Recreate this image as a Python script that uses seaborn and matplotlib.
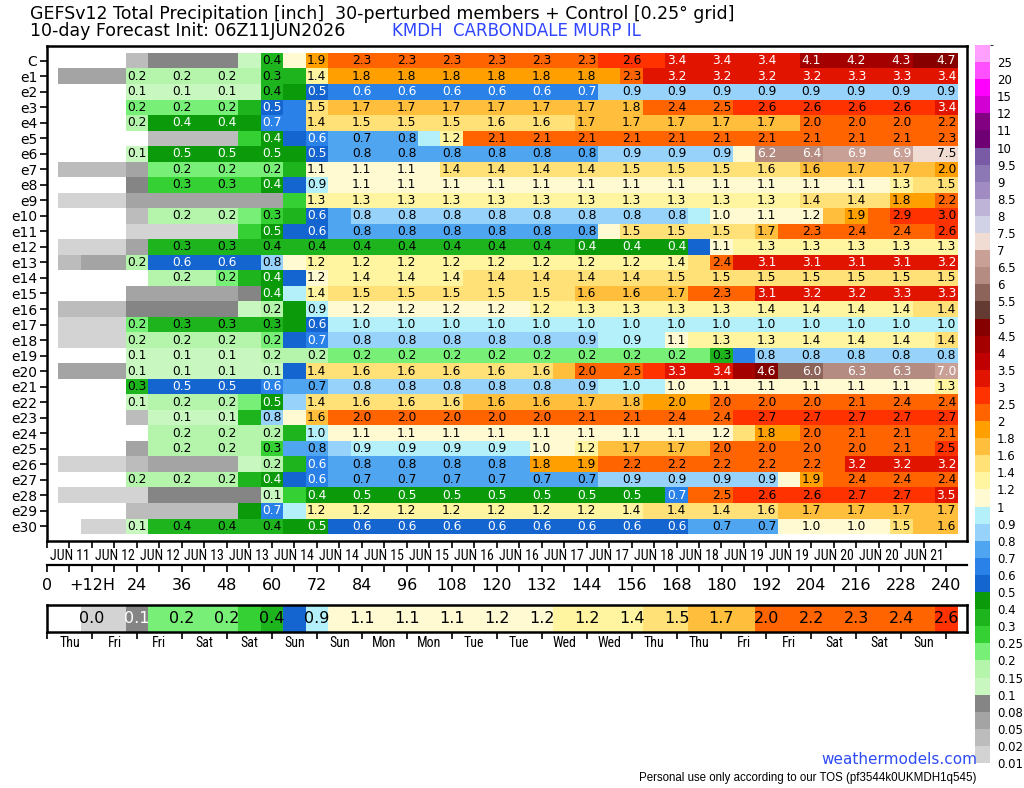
import numpy as np
import pandas as pd
import seaborn as sns
import matplotlib.pyplot as plt
from matplotlib import colors as mcolors
from matplotlib import cm
from matplotlib import font_manager as fm

# accumulated precip (inch), 6-hourly steps 6h..240h
members = ['C'] + ['e%d' % i for i in range(1, 31)]

precip_C = [0, 0, 0, 0.03, 0.09, 0.09, 0.09, 0.09, 0.13, 0.38,
            1.05, 1.9, 2.2, 2.3, 2.3, 2.3, 2.3, 2.3, 2.3, 2.3,
            2.3, 2.3, 2.3, 2.3, 2.55, 2.6, 2.7, 3.4, 3.4, 3.4,
            3.4, 3.4, 3.45, 4.1, 4.15, 4.2, 4.25, 4.3, 4.6, 4.7]
precip_e1 = [0.06, 0.06, 0.06, 0.17, 0.18, 0.18, 0.18, 0.18, 0.18, 0.32,
             0.38, 1.38, 1.82, 1.82, 1.82, 1.82, 1.82, 1.82, 1.82, 1.82,
             1.82, 1.82, 1.82, 1.82, 1.85, 2.3, 3.15, 3.2, 3.2, 3.2,
             3.2, 3.2, 3.2, 3.2, 3.25, 3.3, 3.3, 3.3, 3.35, 3.4]
precip_e2 = [0, 0, 0, 0.12, 0.12, 0.12, 0.12, 0.12, 0.12, 0.38,
             0.45, 0.52, 0.61, 0.62, 0.62, 0.62, 0.62, 0.62, 0.62, 0.62,
             0.62, 0.62, 0.66, 0.68, 0.88, 0.88, 0.88, 0.88, 0.88, 0.88,
             0.88, 0.88, 0.88, 0.88, 0.88, 0.88, 0.88, 0.88, 0.88, 0.88]
precip_e3 = [0, 0, 0, 0.21, 0.21, 0.21, 0.21, 0.21, 0.32, 0.52,
             0.62, 1.5, 1.7, 1.7, 1.7, 1.7, 1.7, 1.7, 1.7, 1.7,
             1.7, 1.7, 1.7, 1.7, 1.7, 1.78, 2.3, 2.4, 2.45, 2.48,
             2.55, 2.6, 2.6, 2.6, 2.6, 2.6, 2.6, 2.6, 2.6, 3.4]
precip_e4 = [0, 0, 0, 0.18, 0.42, 0.42, 0.42, 0.42, 0.42, 0.68,
             0.69, 1.42, 1.5, 1.5, 1.5, 1.5, 1.5, 1.5, 1.5, 1.58,
             1.59, 1.59, 1.59, 1.68, 1.7, 1.7, 1.7, 1.7, 1.7, 1.7,
             1.7, 1.7, 1.7, 2.02, 2.02, 2.02, 2.02, 2.02, 2.1, 2.2]
precip_e5 = [0, 0, 0, 0, 0.03, 0.03, 0.03, 0.03, 0.28, 0.42,
             0.55, 0.62, 0.72, 0.74, 0.76, 0.78, 0.95, 1.22, 2.05, 2.1,
             2.1, 2.1, 2.1, 2.1, 2.1, 2.1, 2.1, 2.1, 2.1, 2.1,
             2.1, 2.1, 2.1, 2.1, 2.1, 2.1, 2.1, 2.1, 2.2, 2.3]
precip_e6 = [0, 0, 0, 0.12, 0.47, 0.47, 0.47, 0.47, 0.47, 0.47,
             0.47, 0.52, 0.78, 0.78, 0.78, 0.78, 0.78, 0.78, 0.78, 0.78,
             0.78, 0.78, 0.78, 0.78, 0.88, 0.88, 0.88, 0.88, 0.88, 0.88,
             1.1, 6.2, 6.3, 6.4, 6.6, 6.9, 6.9, 6.9, 7.2, 7.48]
precip_e7 = [0.03, 0.03, 0.03, 0.06, 0.21, 0.21, 0.21, 0.21, 0.21, 0.21,
             0.35, 1.1, 1.1, 1.1, 1.1, 1.1, 1.1, 1.42, 1.42, 1.42,
             1.42, 1.42, 1.45, 1.45, 1.5, 1.5, 1.5, 1.5, 1.5, 1.5,
             1.55, 1.58, 1.59, 1.62, 1.65, 1.7, 1.7, 1.7, 1.72, 1.96]
precip_e8 = [0, 0, 0, 0.09, 0.28, 0.28, 0.28, 0.28, 0.28, 0.42,
             0.55, 0.92, 1.1, 1.1, 1.1, 1.1, 1.1, 1.1, 1.1, 1.1,
             1.1, 1.1, 1.1, 1.1, 1.1, 1.1, 1.1, 1.1, 1.1, 1.1,
             1.1, 1.1, 1.1, 1.1, 1.1, 1.1, 1.1, 1.3, 1.45, 1.5]
precip_e9 = [0.015, 0.015, 0.015, 0.06, 0.06, 0.06, 0.06, 0.06, 0.06, 0.06,
             0.28, 1.3, 1.3, 1.3, 1.3, 1.3, 1.3, 1.3, 1.3, 1.3,
             1.3, 1.3, 1.3, 1.3, 1.3, 1.3, 1.3, 1.3, 1.3, 1.3,
             1.3, 1.3, 1.3, 1.42, 1.42, 1.42, 1.45, 1.82, 1.85, 2.2]
precip_e10 = [0, 0, 0, 0.03, 0.18, 0.18, 0.18, 0.18, 0.22, 0.28,
              0.35, 0.58, 0.72, 0.82, 0.82, 0.82, 0.82, 0.82, 0.82, 0.82,
              0.82, 0.82, 0.82, 0.82, 0.82, 0.82, 0.82, 0.82, 0.95, 1.02,
              1.05, 1.1, 1.15, 1.18, 1.7, 1.9, 2.3, 2.9, 2.95, 2.98]
precip_e11 = [0, 0, 0, 0.015, 0.015, 0.015, 0.015, 0.015, 0.28, 0.48,
              0.55, 0.58, 0.78, 0.78, 0.78, 0.78, 0.78, 0.78, 0.78, 0.78,
              0.78, 0.78, 0.78, 0.78, 1.1, 1.5, 1.5, 1.5, 1.5, 1.5,
              1.5, 1.7, 2.2, 2.3, 2.35, 2.4, 2.4, 2.4, 2.45, 2.6]
precip_e12 = [0.015, 0.015, 0.015, 0.06, 0.32, 0.32, 0.32, 0.32, 0.32, 0.38,
              0.38, 0.38, 0.38, 0.38, 0.38, 0.38, 0.38, 0.38, 0.38, 0.38,
              0.38, 0.38, 0.38, 0.42, 0.42, 0.42, 0.42, 0.42, 0.55, 1.1,
              1.3, 1.3, 1.3, 1.3, 1.3, 1.3, 1.3, 1.3, 1.3, 1.3]
precip_e13 = [0.03, 0.06, 0.06, 0.18, 0.58, 0.58, 0.58, 0.58, 0.58, 0.82,
              1.1, 1.22, 1.22, 1.22, 1.22, 1.22, 1.22, 1.22, 1.22, 1.22,
              1.22, 1.22, 1.22, 1.22, 1.22, 1.22, 1.3, 1.38, 1.45, 2.4,
              3.05, 3.1, 3.1, 3.1, 3.1, 3.1, 3.1, 3.1, 3.15, 3.2]
precip_e14 = [0, 0, 0, 0, 0.17, 0.17, 0.17, 0.21, 0.35, 0.42,
              0.55, 1.16, 1.3, 1.38, 1.38, 1.38, 1.38, 1.38, 1.42, 1.42,
              1.42, 1.42, 1.42, 1.42, 1.42, 1.42, 1.45, 1.5, 1.5, 1.5,
              1.5, 1.5, 1.5, 1.5, 1.5, 1.5, 1.5, 1.5, 1.5, 1.5]
precip_e15 = [0, 0, 0, 0.06, 0.06, 0.06, 0.06, 0.06, 0.09, 0.42,
              0.95, 1.38, 1.5, 1.5, 1.5, 1.5, 1.5, 1.5, 1.5, 1.5,
              1.5, 1.5, 1.5, 1.61, 1.61, 1.62, 1.65, 1.7, 2.2, 2.3,
              2.4, 3.1, 3.15, 3.2, 3.2, 3.2, 3.2, 3.3, 3.3, 3.3]
precip_e16 = [0.03, 0.03, 0.03, 0.09, 0.09, 0.09, 0.09, 0.09, 0.12, 0.18,
              0.45, 0.92, 1.15, 1.16, 1.16, 1.16, 1.16, 1.16, 1.16, 1.16,
              1.18, 1.22, 1.26, 1.3, 1.3, 1.3, 1.3, 1.3, 1.3, 1.3,
              1.38, 1.38, 1.38, 1.38, 1.38, 1.38, 1.38, 1.38, 1.41, 1.42]
precip_e17 = [0.015, 0.015, 0.015, 0.22, 0.32, 0.32, 0.32, 0.32, 0.32, 0.32,
              0.45, 0.58, 0.98, 0.98, 0.98, 0.98, 0.98, 0.98, 0.98, 0.98,
              0.98, 0.98, 0.98, 0.98, 0.98, 0.98, 0.98, 0.98, 0.98, 0.98,
              0.98, 0.98, 0.98, 0.98, 0.98, 0.98, 0.98, 0.98, 0.98, 0.98]
precip_e18 = [0.015, 0.015, 0.015, 0.18, 0.18, 0.18, 0.18, 0.18, 0.18, 0.21,
              0.55, 0.68, 0.82, 0.82, 0.82, 0.82, 0.82, 0.82, 0.82, 0.82,
              0.82, 0.82, 0.82, 0.88, 0.92, 0.92, 0.92, 1.1, 1.25, 1.3,
              1.3, 1.3, 1.3, 1.38, 1.38, 1.38, 1.38, 1.38, 1.39, 1.42]
precip_e19 = [0, 0, 0, 0.12, 0.12, 0.12, 0.12, 0.12, 0.12, 0.18,
              0.18, 0.18, 0.22, 0.22, 0.22, 0.22, 0.22, 0.22, 0.22, 0.22,
              0.22, 0.22, 0.22, 0.22, 0.22, 0.22, 0.22, 0.22, 0.22, 0.32,
              0.65, 0.82, 0.82, 0.82, 0.82, 0.82, 0.82, 0.82, 0.82, 0.82]
precip_e20 = [0.06, 0.06, 0.06, 0.12, 0.12, 0.12, 0.12, 0.12, 0.12, 0.12,
              0.55, 1.42, 1.58, 1.58, 1.58, 1.58, 1.58, 1.58, 1.58, 1.58,
              1.58, 1.58, 1.7, 2.02, 2.2, 2.48, 2.8, 3.3, 3.35, 3.4,
              4.2, 4.6, 5.8, 5.98, 6.2, 6.3, 6.3, 6.3, 6.4, 6.98]
precip_e21 = [0, 0, 0, 0.32, 0.52, 0.52, 0.52, 0.52, 0.52, 0.62,
              0.72, 0.72, 0.82, 0.82, 0.82, 0.82, 0.82, 0.82, 0.82, 0.82,
              0.82, 0.82, 0.82, 0.88, 0.96, 0.96, 0.96, 1.02, 1.05, 1.1,
              1.1, 1.1, 1.1, 1.1, 1.1, 1.1, 1.1, 1.1, 1.1, 1.3]
precip_e22 = [0, 0, 0, 0.12, 0.18, 0.18, 0.18, 0.18, 0.22, 0.48,
              0.85, 1.42, 1.58, 1.58, 1.58, 1.58, 1.58, 1.58, 1.62, 1.62,
              1.62, 1.62, 1.62, 1.7, 1.75, 1.78, 1.9, 1.96, 1.98, 2.02,
              2.02, 2.02, 2.02, 2.02, 2.02, 2.1, 2.3, 2.4, 2.4, 2.4]
precip_e23 = [0, 0, 0, 0.03, 0.12, 0.12, 0.12, 0.12, 0.35, 0.82,
              1.1, 1.62, 2.02, 2.02, 2.02, 2.02, 2.02, 2.02, 2.02, 2.02,
              2.02, 2.02, 2.02, 2.1, 2.1, 2.12, 2.3, 2.4, 2.4, 2.4,
              2.6, 2.7, 2.7, 2.7, 2.7, 2.7, 2.7, 2.7, 2.7, 2.7]
precip_e24 = [0, 0, 0, 0, 0.18, 0.18, 0.18, 0.18, 0.18, 0.18,
              0.35, 0.98, 1.1, 1.1, 1.1, 1.1, 1.1, 1.1, 1.1, 1.1,
              1.1, 1.1, 1.1, 1.1, 1.1, 1.1, 1.1, 1.1, 1.1, 1.18,
              1.5, 1.82, 1.9, 2.02, 2.05, 2.1, 2.1, 2.1, 2.1, 2.1]
precip_e25 = [0, 0, 0, 0.06, 0.18, 0.18, 0.18, 0.18, 0.18, 0.28,
              0.72, 0.78, 0.85, 0.92, 0.92, 0.92, 0.92, 0.92, 0.92, 0.92,
              0.92, 1.02, 1.1, 1.22, 1.65, 1.7, 1.7, 1.7, 1.75, 2.02,
              2.02, 2.02, 2.02, 2.02, 2.02, 2.02, 2.02, 2.1, 2.2, 2.52]
precip_e26 = [0.015, 0.015, 0.015, 0.03, 0.06, 0.06, 0.06, 0.06, 0.12, 0.18,
              0.35, 0.62, 0.78, 0.78, 0.78, 0.78, 0.78, 0.78, 0.78, 0.78,
              0.78, 1.82, 1.85, 1.9, 2.2, 2.2, 2.2, 2.2, 2.2, 2.2,
              2.2, 2.2, 2.2, 2.2, 2.2, 3.2, 3.2, 3.2, 3.2, 3.2]
precip_e27 = [0, 0, 0, 0.18, 0.18, 0.18, 0.18, 0.18, 0.35, 0.42,
              0.55, 0.62, 0.72, 0.72, 0.72, 0.72, 0.72, 0.72, 0.72, 0.72,
              0.72, 0.72, 0.72, 0.72, 0.88, 0.88, 0.88, 0.88, 0.88, 0.88,
              0.88, 0.88, 1.1, 1.9, 2.2, 2.4, 2.4, 2.4, 2.4, 2.4]
precip_e28 = [0.015, 0.015, 0.015, 0.015, 0.09, 0.09, 0.09, 0.09, 0.09, 0.12,
              0.28, 0.42, 0.48, 0.48, 0.48, 0.48, 0.48, 0.48, 0.48, 0.48,
              0.48, 0.48, 0.48, 0.48, 0.48, 0.48, 0.48, 0.68, 2.2, 2.48,
              2.55, 2.6, 2.6, 2.6, 2.6, 2.7, 2.7, 2.7, 2.7, 3.48]
precip_e29 = [0, 0, 0, 0.03, 0.03, 0.03, 0.03, 0.03, 0.45, 0.68,
              0.95, 1.22, 1.22, 1.22, 1.22, 1.22, 1.22, 1.22, 1.22, 1.22,
              1.22, 1.22, 1.22, 1.22, 1.22, 1.38, 1.42, 1.42, 1.42, 1.42,
              1.5, 1.58, 1.62, 1.7, 1.7, 1.7, 1.7, 1.7, 1.7, 1.7]
precip_e30 = [0, 0.015, 0.015, 0.12, 0.38, 0.38, 0.38, 0.38, 0.38, 0.38,
              0.46, 0.48, 0.58, 0.58, 0.58, 0.58, 0.58, 0.58, 0.58, 0.58,
              0.58, 0.58, 0.58, 0.58, 0.58, 0.58, 0.58, 0.58, 0.72, 0.72,
              0.72, 0.72, 1.02, 1.02, 1.02, 1.02, 1.02, 1.5, 1.61, 1.62]

# ensemble mean strip
ens_mean = [0, 0.015, 0.015, 0.09, 0.21, 0.21, 0.22, 0.22, 0.28, 0.36,
            0.55, 0.92, 1.05, 1.1, 1.1, 1.1, 1.1, 1.12, 1.15, 1.17,
            1.18, 1.19, 1.22, 1.24, 1.3, 1.38, 1.45, 1.5, 1.65, 1.7,
            1.75, 2.02, 2.1, 2.2, 2.25, 2.3, 2.35, 2.4, 2.45, 2.6]

hour_labels = ['0', '+12H', '24', '36', '48', '60', '72', '84', '96', '108', '120',
               '132', '144', '156', '168', '180', '192', '204', '216', '228', '240']
date_labels = ['JUN 11', 'JUN 12', 'JUN 12', 'JUN 13', 'JUN 13', 'JUN 14', 'JUN 14',
               'JUN 15', 'JUN 15', 'JUN 16', 'JUN 16', 'JUN 17', 'JUN 17', 'JUN 18',
               'JUN 18', 'JUN 19', 'JUN 19', 'JUN 20', 'JUN 20', 'JUN 21']
day_labels = ['Thu', 'Fri', 'Fri', 'Sat', 'Sat', 'Sun', 'Sun', 'Mon', 'Mon', 'Tue',
              'Tue', 'Wed', 'Wed', 'Thu', 'Thu', 'Fri', 'Fri', 'Sat', 'Sat', 'Sun']

bounds = [0.01, 0.02, 0.05, 0.08, 0.1, 0.15, 0.2, 0.25, 0.3, 0.4, 0.5, 0.6, 0.7, 0.8,
          0.9, 1, 1.2, 1.4, 1.6, 1.8, 2, 2.5, 3, 3.5, 4, 4.5, 5, 5.5, 6, 6.5, 7, 7.5,
          8, 8.5, 9, 9.5, 10, 11, 12, 15, 20, 25, 30]
bound_labels = ['0.01', '0.02', '0.05', '0.08', '0.1', '0.15', '0.2', '0.25', '0.3',
                '0.4', '0.5', '0.6', '0.7', '0.8', '0.9', '1', '1.2', '1.4', '1.6',
                '1.8', '2', '2.5', '3', '3.5', '4', '4.5', '5', '5.5', '6', '6.5',
                '7', '7.5', '8', '8.5', '9', '9.5', '10', '11', '12', '15', '20', '25']
level_colors = ['#d3d3d3', '#bcbcbc', '#a4a4a4', '#858585', '#c8f8c0', '#b4f5ab',
                '#78f078', '#34d034', '#1eb41e', '#0a9a0a', '#1565d0', '#2a82e8',
                '#50a5f0', '#96d2fa', '#b4f0fa', '#fffad2', '#fff5a0', '#ffe178',
                '#ffbe3c', '#ffa000', '#ff6400', '#ff3200', '#e11400', '#c00000',
                '#a50000', '#870000', '#643b32', '#8c6459', '#b48c82', '#c8a096',
                '#f0dcd2', '#d2d2e6', '#beb4d7', '#a08cc3', '#8c78b4', '#785aa5',
                '#6e0073', '#820082', '#d200d2', '#ff00ff', '#ff50ff', '#ffa0ff']

rows = [precip_C, precip_e1, precip_e2, precip_e3, precip_e4, precip_e5, precip_e6,
        precip_e7, precip_e8, precip_e9, precip_e10, precip_e11, precip_e12,
        precip_e13, precip_e14, precip_e15, precip_e16, precip_e17, precip_e18,
        precip_e19, precip_e20, precip_e21, precip_e22, precip_e23, precip_e24,
        precip_e25, precip_e26, precip_e27, precip_e28, precip_e29, precip_e30]
df = pd.DataFrame(rows, index=members)
mean_df = pd.DataFrame([ens_mean])

cmap = mcolors.ListedColormap(level_colors)
norm = mcolors.BoundaryNorm(bounds, cmap.N)

avail = {f.name for f in fm.fontManager.ttflist}
narrow = next((n for n in ['Liberation Sans Narrow', 'Roboto Condensed', 'DejaVu Sans']
               if n in avail), 'DejaVu Sans')
small = 10 if narrow != 'DejaVu Sans' else 8


def txt_color(v):
    if 0.08 <= v < 0.1 or 0.4 <= v < 0.7 or 3.0 <= v < 7.0 or v >= 9.5:
        return 'white'
    return 'black'


W, H = 1024, 788


def box(x0, y0, x1, y1):
    return [x0 / W, 1 - y1 / H, (x1 - x0) / W, (y1 - y0) / H]


fig = plt.figure(figsize=(10.24, 7.88), dpi=100)
fig.patch.set_facecolor('white')

# main member heatmap
ax = fig.add_axes(box(47, 46, 967, 541))
sns.heatmap(df, ax=ax, cmap=cmap, norm=norm, cbar=False, mask=df < 0.01,
            xticklabels=False, yticklabels=False)
ax.set_xlim(-0.5, 40.42)
ax.set_ylim(31.45, -0.45)
for s in ax.spines.values():
    s.set_visible(True)
    s.set_linewidth(1.8)
ax.set_yticks(np.arange(31) + 0.5, members, fontsize=10)
xt = np.arange(41) - 0.5
xl = [date_labels[(i - 1) // 2] if i % 2 == 1 else '' for i in range(41)]
ax.set_xticks(xt, xl)
ax.tick_params(axis='y', length=5, width=1.2, pad=2)
ax.tick_params(axis='x', length=5, width=1.2, pad=1)
for t in ax.get_xticklabels():
    t.set_fontfamily(narrow)
    t.set_fontsize(small)

for r in range(len(members)):
    for k in range(1, 40, 2):
        v = df.iat[r, k]
        if v >= 0.1:
            ax.text(k + 0.5, r + 0.5, '%.1f' % v, ha='center', va='center',
                    fontsize=8.8, color=txt_color(v))

# forecast hour axis
ax2 = fig.add_axes(box(47, 560, 967, 565))
ax2.patch.set_alpha(0)
for side in ['top', 'left', 'right']:
    ax2.spines[side].set_visible(False)
ax2.spines['bottom'].set_linewidth(1.6)
ax2.set_xlim(0, 245.5)
ax2.set_yticks([])
ax2.set_xticks(np.arange(0, 241, 12), hour_labels, fontsize=11.5)
ax2.set_xticks(np.arange(6, 241, 12), minor=True)
ax2.tick_params(which='both', length=5, width=1.2, pad=4)

# ensemble mean strip
ax3 = fig.add_axes(box(47, 605, 967, 632))
sns.heatmap(mean_df, ax=ax3, cmap=cmap, norm=norm, cbar=False, mask=mean_df < 0.01,
            xticklabels=False, yticklabels=False)
ax3.set_xlim(-0.5, 40.42)
ax3.set_ylim(1, 0)
for s in ax3.spines.values():
    s.set_visible(True)
    s.set_linewidth(1.8)
ax3.set_yticks([])
ax3.set_xticks(np.arange(0, 241, 12) / 6 - 0.5, [''] * 21)
ax3.set_xticks(np.arange(6, 241, 12) / 6 - 0.5, day_labels, minor=True)
ax3.tick_params(which='major', length=5, width=1.2)
ax3.tick_params(which='minor', length=0, pad=3)
for t in ax3.get_xticklabels(minor=True):
    t.set_fontfamily(narrow)
    t.set_fontsize(small)
for k in range(1, 40, 2):
    v = ens_mean[k]
    if v >= 0.01:
        ax3.text(k + 0.5, 0.5, '%.1f' % v, ha='center', va='center',
                 fontsize=11.5, color=txt_color(v))

# colour scale
cax = fig.add_axes(box(975, 45, 990, 763))
sm = cm.ScalarMappable(norm=norm, cmap=cmap)
cb = fig.colorbar(sm, cax=cax, spacing='uniform')
cb.set_ticks(bounds[:-1], labels=bound_labels)
cb.outline.set_visible(False)
cax.tick_params(length=0, labelsize=8.5, pad=5)

# titles
fig.text(30 / W, 1 - 14 / H,
         'GEFSv12 Total Precipitation [inch]  30-perturbed members + Control [0.25\u00b0 grid]',
         fontsize=12.5, va='center')
fig.text(30 / W, 1 - 31 / H, '10-day Forecast Init: 06Z11JUN2026',
         fontsize=12.5, va='center')
fig.text(392 / W, 1 - 31 / H, 'KMDH  CARBONDALE MURP IL',
         fontsize=12, va='center', color='#2f45ff')
fig.text(977 / W, 1 - 759 / H, 'weathermodels.com', fontsize=11, ha='right',
         va='center', color='#2f4bf5')
fig.text(976 / W, 1 - 778 / H,
         'Personal use only according to our TOS (pf3544k0UKMDH1q545)',
         fontsize=8.3, ha='right', va='center', family='Liberation Sans')

fig.savefig('out.png', dpi=100)
